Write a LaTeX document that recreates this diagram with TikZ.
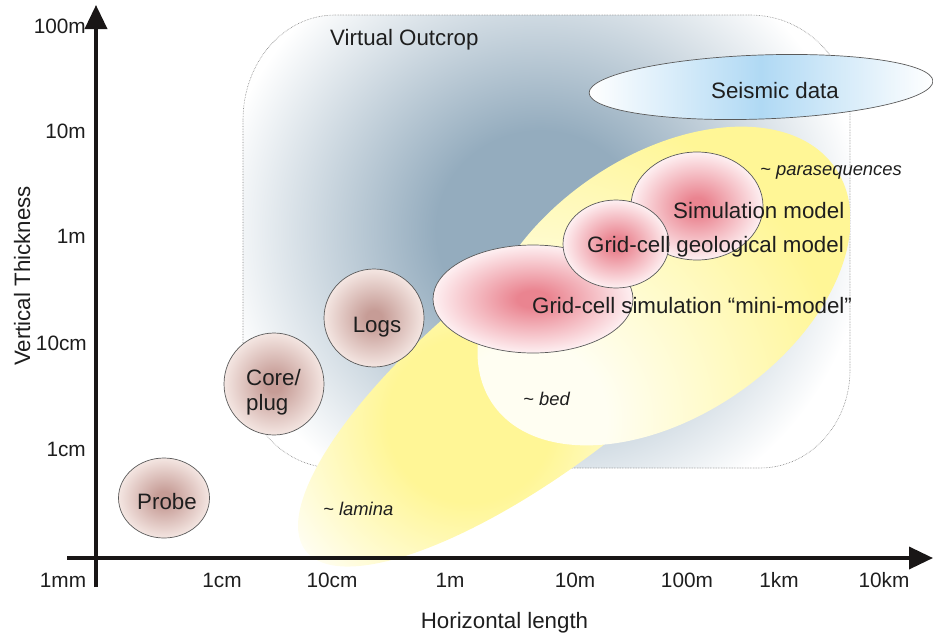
\documentclass[tikz,border=0pt]{standalone}
\usepackage{fontspec}
\setmainfont{Liberation Sans}
\usetikzlibrary{arrows.meta}
\definecolor{vodark}{RGB}{148,172,190}
\definecolor{ylw}{RGB}{255,246,150}
\definecolor{bedin}{RGB}{255,254,242}
\definecolor{seis}{RGB}{176,217,244}
\definecolor{brin}{RGB}{198,156,150}
\definecolor{brout}{RGB}{244,230,226}
\definecolor{pkin}{RGB}{234,132,144}
\definecolor{pkout}{RGB}{254,240,242}
\definecolor{edgec}{RGB}{90,90,90}
\definecolor{txt}{RGB}{30,30,30}
\definecolor{axisc}{RGB}{25,22,22}
\pgfdeclareradialshading{vosh}{\pgfpoint{0bp}{0bp}}{color(0bp)=(vodark); color(8bp)=(vodark); color(25bp)=(white); color(50bp)=(white)}
\pgfdeclareradialshading{lamsh}{\pgfpoint{0bp}{0bp}}{color(0bp)=(ylw); color(9bp)=(ylw); color(25bp)=(white); color(50bp)=(white)}
\pgfdeclareradialshading{bedsh}{\pgfpoint{0bp}{0bp}}{color(0bp)=(bedin); color(6bp)=(bedin); color(25bp)=(ylw); color(50bp)=(ylw)}
\pgfdeclareradialshading{pinksh}{\pgfpoint{0bp}{0bp}}{color(0bp)=(pkin); color(4bp)=(pkin); color(25bp)=(pkout); color(50bp)=(pkout)}
\pgfdeclareradialshading{brownsh}{\pgfpoint{0bp}{0bp}}{color(0bp)=(brin); color(4bp)=(brin); color(25bp)=(brout); color(50bp)=(brout)}
\tikzset{
  lbl/.style={font=\fontsize{22.3}{25}\selectfont, inner sep=0pt, text=txt},
  ital/.style={font=\fontsize{18.4}{22}\selectfont\itshape, inner sep=0pt, text=txt},
  tick/.style={font=\fontsize{20.8}{25}\selectfont, inner sep=0pt, text=txt},
  blob/.style={draw=edgec, line width=0.7pt},
  brown/.style={blob, shading=brownsh},
  pink/.style={blob, shading=pinksh},
  axisline/.style={draw=axisc, line width=3.6pt, -{Triangle[length=24pt,width=22pt]}}
}
\def\vopath{(243,120) .. controls (243,62) and (284,15) .. (335,15) -- (750,15) .. controls (805,15) and (850,60) .. (850,115) -- (850,370) .. controls (850,424) and (810,468) .. (760,468) -- (335,468) .. controls (284,468) and (243,424) .. (243,370) -- cycle}
\begin{document}
\begin{tikzpicture}[x=1pt,y=-1pt]
\useasboundingbox (0,0) rectangle (933,635);
% Virtual outcrop box
\begin{scope}
  \clip \vopath;
  \shade[shading=vosh] (215,-80) rectangle (865,540);
\end{scope}
\draw[gray, densely dotted, line width=0.6pt] \vopath;
% Seismic data
\shadedraw[draw=edgec, line width=0.7pt, left color=white, right color=white, middle color=seis, rotate around={2:(761,87)}] (761,87) ellipse [x radius=172, y radius=32];
% lamina
\begin{scope}
  \clip[rotate around={38:(550,360)}] (550,360) ellipse [x radius=310, y radius=100];
  \shade[shading=lamsh] (240,190) rectangle (700,650);
\end{scope}
% bed
\begin{scope}
  \clip[rotate around={34.6:(664,286)}] (664,286) ellipse [x radius=208, y radius=130];
  \shade[shading=bedsh] (210,100) rectangle (850,740);
\end{scope}
% pink models
\shadedraw[pink] (533,299) ellipse [x radius=100, y radius=54];
\shadedraw[pink] (697,206) ellipse [x radius=66, y radius=54];
\shadedraw[pink] (616,244) ellipse [x radius=53, y radius=44];
% brown data
\shadedraw[brown] (164,498) ellipse [x radius=45.5, y radius=40];
\shadedraw[brown] (274,384) ellipse [x radius=50, y radius=51];
\shadedraw[brown] (374,318) ellipse [x radius=50, y radius=49];
% axes
\coordinate (yb) at (96,587);
\coordinate (yt) at (96,5);
\coordinate (xl) at (67,558);
\coordinate (xr) at (933,558);
\draw[axisline] (yb) -- (yt);
\draw[axisline] (xl) -- (xr);
% labels
\node[lbl, anchor=base west] (vo) at (330,45) {Virtual Outcrop};
\node[lbl, anchor=base] (sd) at (775,98) {Seismic data};
\node[lbl, anchor=base west] (sim) at (673,218) {Simulation model};
\node[lbl, anchor=base west] (geo) at (587,252) {Grid-cell geological model};
\node[lbl, anchor=base west] (mini) at (532,313) {Grid-cell simulation “mini-model”};
\node[ital, anchor=base west] (para) at (760,175) {\textasciitilde\ parasequences};
\node[ital, anchor=base west] (bed) at (523,405) {\textasciitilde\ bed};
\node[ital, anchor=base west] (lam) at (323,515) {\textasciitilde\ lamina};
\node[lbl, anchor=base] (logs) at (377,332) {Logs};
\node[lbl, anchor=base west] (core) at (246,385) {\begin{tabular}[t]{@{}l@{}}Core/\\plug\end{tabular}};
\node[lbl, anchor=base] (probe) at (167,509) {Probe};
% y ticks
\node[tick, anchor=base east] (y100m) at (86,33) {100m};
\node[tick, anchor=base east] (y10m) at (86,138) {10m};
\node[tick, anchor=base east] (y1m) at (86,243) {1m};
\node[tick, anchor=base east] (y10cm) at (87,350) {10cm};
\node[tick, anchor=base east] (y1cm) at (86,456) {1cm};
% x ticks
\node[tick, anchor=base] (x1mm) at (63,587) {1mm};
\node[tick, anchor=base] (x1cm) at (222,587) {1cm};
\node[tick, anchor=base] (x10cm) at (332,587) {10cm};
\node[tick, anchor=base] (x1m) at (450,587) {1m};
\node[tick, anchor=base] (x10m) at (575,587) {10m};
\node[tick, anchor=base] (x100m) at (687,587) {100m};
\node[tick, anchor=base] (x1km) at (779,587) {1km};
\node[tick, anchor=base] (x10km) at (884,587) {10km};
\node[lbl, anchor=base] (hl) at (504.5,628) {Horizontal length};
\node[lbl, anchor=base, rotate=90] (vt) at (30,276) {Vertical Thickness};
\end{tikzpicture}
\end{document}
